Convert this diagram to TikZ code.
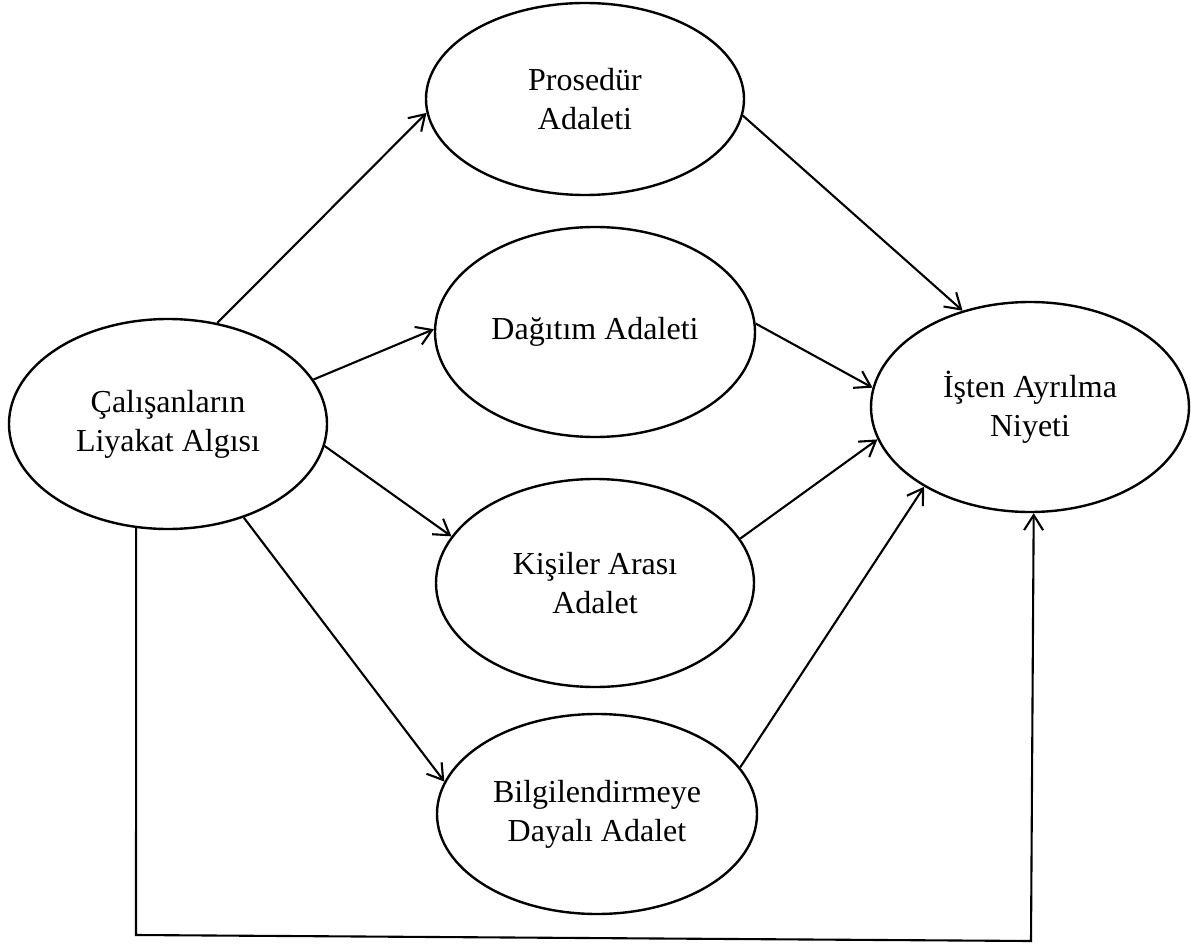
\documentclass[tikz,border=0pt]{standalone}
\usepackage{fontspec}
\setmainfont{Liberation Serif}
\usetikzlibrary{shapes.geometric, arrows.meta}

\tikzset{
  oval/.style={draw, ellipse, line width=2.4pt, inner sep=0pt, align=center,
    font=\fontsize{32}{39}\selectfont},
  conn/.style={line width=2.1pt, -{Straight Barb[length=15pt,width=19pt,line width=2.1pt]}},
}

\begin{document}
\begin{tikzpicture}[x=1pt, y=-1pt]
\useasboundingbox (0,0) rectangle (1191,944);
% nodes
\node[oval, minimum width=318pt, minimum height=210pt] (lia) at (168,424) {Çalışanların\\Liyakat Algısı};
\node[oval, minimum width=318pt, minimum height=192pt] (pro) at (585,99) {Prosedür\\Adaleti};
\node[oval, minimum width=320pt, minimum height=210pt] (dag) at (595,332) {Dağıtım Adaleti};
\node[oval, minimum width=318pt, minimum height=208pt] (kis) at (595,583) {Kişiler Arası\\Adalet};
\node[oval, minimum width=320pt, minimum height=200pt] (bil) at (597,814) {Bilgilendirmeye\\Dayalı Adalet};
\node[oval, minimum width=318pt, minimum height=210pt] (ist) at (1030,407) {İşten Ayrılma\\Niyeti};
\coordinate (fbl) at (136,935);
\coordinate (fbr) at (1031,941);
% arrows
\draw[conn] (lia.64) -- (pro.185);
\draw[conn] (lia.17) -- (dag.179);
\draw[conn] (lia.-8) -- (kis.162);
\draw[conn] (lia.-51) -- (bil.168);
\draw[conn] (pro.-6) -- (ist.125);
\draw[conn] (dag.3) -- (ist.173);
\draw[conn] (kis.17) -- (ist.192);
\draw[conn] (bil.18) -- (ist.217);
\draw[conn] (lia.253) -- (fbl) -- (fbr) -- (ist.272);
\end{tikzpicture}
\end{document}
